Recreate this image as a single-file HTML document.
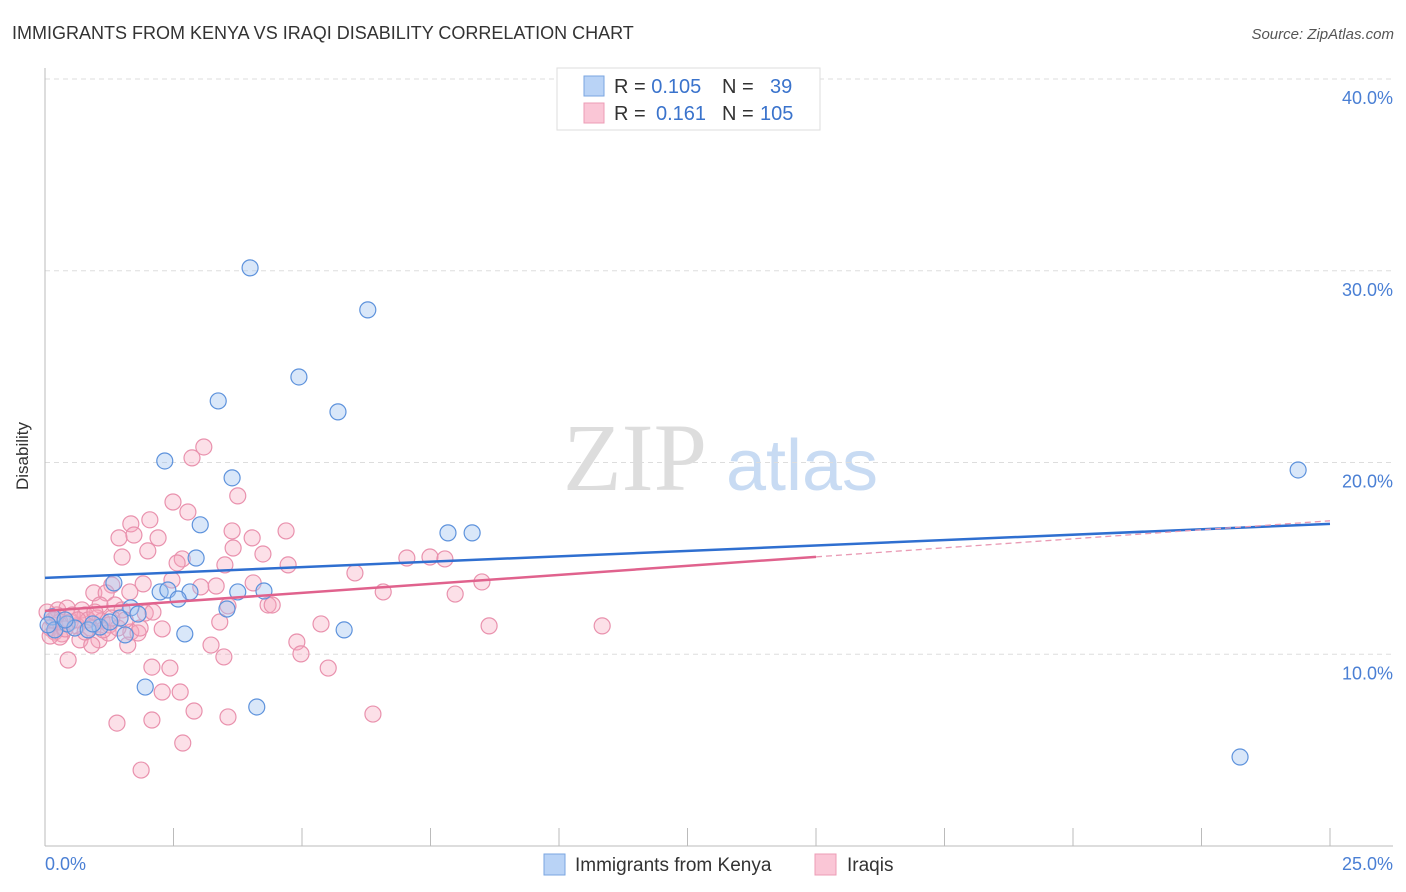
<!DOCTYPE html>
<html><head><meta charset="utf-8"><style>
body{margin:0;background:#fff;font-family:"Liberation Sans",sans-serif;}
svg{display:block}
</style></head><body>
<svg id="chart" width="1406" height="892" xmlns="http://www.w3.org/2000/svg">
<text x="12" y="39" font-size="18" fill="#333">IMMIGRANTS FROM KENYA VS IRAQI DISABILITY CORRELATION CHART</text>
<text x="1394" y="39" font-size="15" fill="#555" font-style="italic" text-anchor="end">Source: ZipAtlas.com</text>
<g>
<text x="635" y="490" font-family="Liberation Serif,serif" font-size="96" fill="#ddd" text-anchor="middle">ZIP</text>
<text x="802" y="490" font-size="72" fill="#c8dbf3" text-anchor="middle">atlas</text>
</g>
<g id="grid"></g>
<line x1="45" y1="68" x2="45" y2="846" stroke="#bbb"/>
<line x1="45" y1="846" x2="1393" y2="846" stroke="#bbb"/>
<g id="ticks"></g>
<g id="pink"></g>
<g id="blue"></g>
<g id="lines"></g>
<text x="28" y="456" font-size="17" fill="#333" text-anchor="middle" transform="rotate(-90 28 456)">Disability</text>
<text x="45" y="870" font-size="18" fill="#4a7fd4">0.0%</text>
<text x="1393" y="870" font-size="18" fill="#4a7fd4" text-anchor="end">25.0%</text>
<g>
<rect x="557" y="68" width="263" height="62" fill="#fff" stroke="#ddd"/>
<rect x="584" y="76" width="20" height="20" fill="#b9d3f6" stroke="#7aa6e0"/>
<rect x="584" y="103" width="20" height="20" fill="#fac6d6" stroke="#ec9cb6"/>
<text x="614" y="93" font-size="20" fill="#333">R = <tspan fill="#3a73cc">0.105</tspan><tspan x="722">N =</tspan><tspan x="770" fill="#3a73cc">39</tspan></text>
<text x="614" y="120" font-size="20" fill="#333">R = <tspan x="656" fill="#3a73cc">0.161</tspan><tspan x="722">N =</tspan><tspan x="760" fill="#3a73cc">105</tspan></text>
</g>
<g>
<rect x="544" y="854" width="21" height="21" fill="#b9d3f6" stroke="#7aa6e0"/>
<text x="575" y="871" font-size="19" fill="#333">Immigrants from Kenya</text>
<rect x="815" y="854" width="21" height="21" fill="#fac6d6" stroke="#ec9cb6"/>
<text x="847" y="871" font-size="19" fill="#333">Iraqis</text>
</g>
</svg>
<script>
const yTicks=[10,20,30,40];
const yTickLabels=["10.0%","20.0%","30.0%","40.0%"];
const xTicks=[0,2.5,5,7.5,10,12.5,15,17.5,20,22.5,25];
const blueX=[3.99,6.28,4.94,3.37,5.70,2.33,3.64,24.38,3.02,7.84,8.31,2.94,1.34,2.24,2.39,2.82,3.75,4.26,2.59,1.67,1.81,3.54,1.46,0.14,0.43,0.58,1.07,0.19,1.56,2.72,5.82,1.95,4.12,23.25,0.84,0.06,0.39,1.26,0.93];
const blueY=[30.15,27.96,24.46,23.21,22.64,20.08,19.20,19.61,16.75,16.33,16.33,15.02,13.72,13.25,13.35,13.25,13.25,13.30,12.88,12.42,12.10,12.36,11.89,11.95,11.58,11.37,11.42,11.27,11.01,11.06,11.27,8.29,7.25,4.64,11.27,11.53,11.79,11.68,11.58];
const pinkX=[3.09,2.86,3.75,2.49,2.78,2.04,1.67,3.64,4.69,1.44,1.73,2.20,4.03,3.66,2.00,4.24,2.67,1.50,7.04,7.49,7.78,4.73,3.50,2.57,6.03,2.47,1.91,8.50,1.30,3.03,6.58,7.98,0.95,1.19,1.65,0.25,0.43,0.72,1.07,1.36,1.50,1.95,4.34,4.42,3.56,2.10,0.78,1.01,1.11,0.49,0.62,0.88,1.25,0.10,0.19,0.33,0.68,1.05,1.23,1.67,1.81,2.28,3.40,5.37,8.64,10.84,1.61,3.23,4.90,0.29,0.91,3.48,4.98,0.45,2.08,2.43,5.51,2.28,2.63,2.90,2.08,1.40,3.56,6.38,2.68,1.87,4.05,3.33,0.53,0.84,0.29,0.97,1.42,0.04,0.16,1.13,1.85,0.39,0.64,1.30,1.56,0.78,0.10,0.23];
const pinkY=[20.81,20.24,18.26,17.94,17.42,17.01,16.80,16.43,16.43,16.07,16.22,16.07,16.07,15.54,15.39,15.23,14.97,15.07,15.02,15.07,14.97,14.66,14.66,14.76,14.24,13.87,13.67,13.77,13.61,13.51,13.25,13.14,13.20,13.20,13.25,12.31,12.41,12.31,12.57,12.57,12.31,12.15,12.57,12.57,12.52,12.20,12.05,11.89,11.74,11.68,11.48,11.37,11.53,11.37,11.16,11.06,10.75,10.75,11.11,11.16,11.11,11.32,11.68,11.58,11.48,11.48,10.48,10.48,10.64,10.90,10.48,9.86,10.02,9.70,9.33,9.28,9.28,8.03,8.03,7.04,6.57,6.41,6.73,6.88,5.37,3.96,13.72,13.56,12.05,11.79,11.68,12.20,11.37,12.20,11.79,11.27,11.37,11.32,11.79,11.89,11.79,11.16,10.95,12.05];
const blueTrend=[13.98,16.80];
const pinkTrend=[12.26,0.188];
const pinkSolidEnd=15;
const NS="http://www.w3.org/2000/svg";
const X0=45,X1=1330,YB=846,YT=79;
function xs(v){return X0+v/25*(X1-X0);}
function ys(v){return YB-v/40*(YB-YT);}
function mk(tag,attrs,parent){const e=document.createElementNS(NS,tag);for(const k in attrs)e.setAttribute(k,attrs[k]);parent.appendChild(e);return e;}
const grid=document.getElementById('grid');
yTicks.forEach((t,i)=>{
  const l=mk('line',{x1:45,x2:1393,y1:ys(t),y2:ys(t),stroke:'#ddd','stroke-dasharray':'5,4'},grid);
  
  
  const tx=mk('text',{x:1393,y:ys(t)+25,'font-size':18,fill:'#4a7fd4','text-anchor':'end'},grid);
  tx.textContent=yTickLabels[i];
  
  
});
const ticks=document.getElementById('ticks');
xTicks.forEach(t=>{
  if(t===0)return;
  const l=mk('line',{x1:xs(t),x2:xs(t),y1:828,y2:846,stroke:'#bbb'},ticks);
  
  
});
const pg=document.getElementById('pink');
pinkX.forEach((v,i)=>{
  const c=mk('circle',{cx:xs(v),cy:ys(pinkY[i]),r:8,fill:'rgba(245,165,190,0.35)',stroke:'#e991ad','stroke-width':1.2},pg);
  
  
});
const bg=document.getElementById('blue');
blueX.forEach((v,i)=>{
  const c=mk('circle',{cx:xs(v),cy:ys(blueY[i]),r:8,fill:'rgba(160,195,240,0.4)',stroke:'#5d92dc','stroke-width':1.2},bg);
  
  
});
const lg=document.getElementById('lines');
const bl=mk('line',{x1:xs(0),y1:ys(blueTrend[0]),x2:xs(25),y2:ys(blueTrend[1]),stroke:'#2f6fd0','stroke-width':2.5},lg);


const pf=x=>pinkTrend[0]+pinkTrend[1]*x;
const pl=mk('line',{x1:xs(0),y1:ys(pf(0)),x2:xs(pinkSolidEnd),y2:ys(pf(pinkSolidEnd)),stroke:'#e0628d','stroke-width':2.5},lg);


const pd=mk('line',{x1:xs(pinkSolidEnd),y1:ys(pf(pinkSolidEnd)),x2:xs(25),y2:ys(pf(25)),stroke:'#e99ab4','stroke-width':1.3,'stroke-dasharray':'6,4'},lg);


</script>
</body></html>
